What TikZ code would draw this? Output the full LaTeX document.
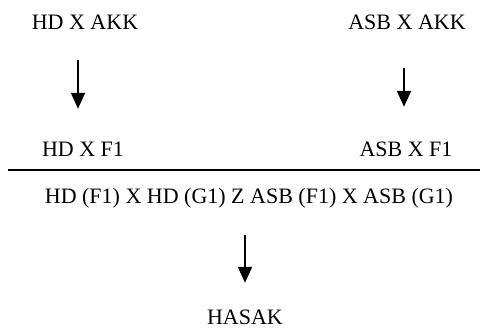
\documentclass[tikz,border=0pt]{standalone}
\usepackage{fontspec}
\setmainfont{Liberation Serif}
\usetikzlibrary{
  arrows.meta,
  positioning
}
\definecolor{Ink}{HTML}{000000}
\newcommand{\crossfont}{\rmfamily\fontsize{22}{26}\selectfont}
\tikzset{
  % Shared text and line looks for the crossing scheme.
  every node/.style={font=\crossfont},
  cross label/.style={
    anchor=base,
    inner sep=0pt,
    text=Ink,
    text height=15pt,
    text depth=5pt
  },
  cross flow/.style={
    -{Triangle[length=16pt,width=14pt]},
    draw=Ink,
    line width=2pt
  },
  cross rule/.style={
    draw=Ink,
    line width=2pt
  }
}
\begin{document}
\begin{tikzpicture}[x=1pt,y=-1pt]
\useasboundingbox (0,0) rectangle (480,329);

% ---------------------------------------------------------------------------
% Parent crosses and their F1 offspring
% ---------------------------------------------------------------------------
\node[cross label] (hdAkk) at (85,30) {HD X AKK};
\node[cross label] (asbAkk) at (407,30) {ASB X AKK};

\node[cross label] (hdF1) at (83,157) {HD X F1};
\node[cross label] (asbF1) at (406,157) {ASB X F1};

\draw[cross flow]
  ([xshift=-7,yshift=-25]hdAkk.south) -- ([xshift=-5,yshift=33]hdF1.north);
\draw[cross flow]
  ([xshift=-3,yshift=-33]asbAkk.south) -- ([xshift=-2,yshift=35]asbF1.north);

% ---------------------------------------------------------------------------
% Final cross and the resulting hybrid
% ---------------------------------------------------------------------------
\coordinate (ruleStart) at (8,170);
\coordinate (ruleEnd) at (480,170);
\draw[cross rule] (ruleStart) -- (ruleEnd);

\node[cross label] (finalCross) at (249,203)
  {HD (F1) X HD (G1) Z ASB (F1) X ASB (G1)};

\node[cross label] (hasak) at (245,324) {HASAK};

\draw[cross flow]
  ([xshift=-4,yshift=-27]finalCross.south) -- ([yshift=26]hasak.north);

\end{tikzpicture}
\end{document}
